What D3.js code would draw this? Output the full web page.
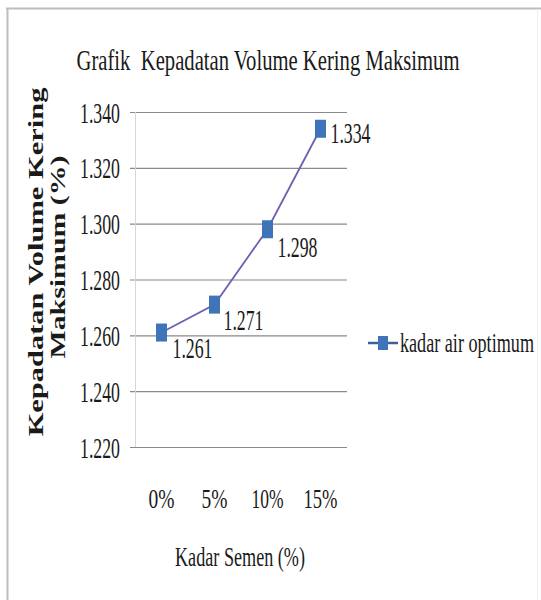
<!DOCTYPE html>
<html>
<head>
<meta charset="utf-8">
<script src="https://cdn.jsdelivr.net/npm/d3@7"></script>
<style>
  html, body { margin: 0; padding: 0; background: #fff; }
  svg { display: block; }
  text { font-family: "Liberation Serif", "Times New Roman", serif; fill: #1a1a1a; white-space: pre; }
</style>
</head>
<body>
<svg id="chart" width="541" height="600"></svg>
<script>
// Kadar semen (%) vs kepadatan volume kering maksimum
const categories = ["0%", "5%", "10%", "15%"];
const values = [1.261, 1.271, 1.298, 1.334];
const valueLabels = ["1.261", "1.271", "1.298", "1.334"];
const yTicks = [1.22, 1.24, 1.26, 1.28, 1.30, 1.32, 1.34];
const yTickLabels = ["1.220", "1.240", "1.260", "1.280", "1.300", "1.320", "1.340"];
const seriesName = "kadar air optimum";
const titleText = "Grafik  Kepadatan Volume Kering Maksimum";
const xTitle = "Kadar Semen (%)";
const yTitle = ["Kepadatan Volume Kering", "Maksimum (%)"];

const svg = d3.select("#chart");

// Places a text at (x, y) and squeezes it horizontally to the given width.
function condensed(parent, str, x, y, size, width, anchor, weight) {
  const g = parent.append("g");
  const t = g.append("text")
    .attr("x", 0).attr("y", 0).attr("dy", "0.35em")
    .attr("font-size", size)
    .attr("text-anchor", anchor || "start")
    .attr("font-weight", weight || "normal")
    .text(str);
  const natural = t.node().getComputedTextLength();
  const sx = width / natural;
  g.attr("transform", `translate(${x},${y}) scale(${sx},1)`);
  return g;
}

// outer frame (left and top edges visible)
svg.append("line").attr("x1", 7.5).attr("x2", 7.5).attr("y1", 8).attr("y2", 600)
  .attr("stroke", "#bdbdbd").attr("stroke-width", 2);
svg.append("line").attr("x1", 6).attr("x2", 541).attr("y1", 8.5).attr("y2", 8.5)
  .attr("stroke", "#bdbdbd").attr("stroke-width", 2);
svg.append("line").attr("x1", 537.5).attr("x2", 537.5).attr("y1", 9).attr("y2", 600)
  .attr("stroke", "#f0f0f0").attr("stroke-width", 1);

const plot = { left: 135, right: 347, top: 112, bottom: 447 };

const x = d3.scaleBand().domain(categories).range([plot.left, plot.right]);
const y = d3.scaleLinear().domain([1.22, 1.34]).range([plot.bottom, plot.top]);

// gridlines with tick stubs
const yAxis = d3.axisLeft(y).tickValues(yTicks).tickSize(0).tickFormat(() => "");
const gy = svg.append("g").attr("transform", `translate(${plot.left},0)`).call(yAxis);
gy.select(".domain").remove();
gy.selectAll(".tick line").remove();
gy.selectAll(".tick text").remove();
gy.selectAll(".tick").append("line")
  .attr("x1", -5).attr("x2", plot.right - plot.left)
  .attr("stroke", "#8a8a8a").attr("stroke-width", 1.2);
gy.selectAll(".tick").each(function (d, i) {
  condensed(d3.select(this), yTickLabels[i], -15, 0, 29, 40, "end");
});

// vertical axis line
svg.append("line").attr("x1", plot.left + 0.5).attr("x2", plot.left + 0.5)
  .attr("y1", plot.top).attr("y2", plot.bottom)
  .attr("stroke", "#d8d8d8").attr("stroke-width", 1);

// category axis labels
const xTickWidths = { "0%": 26, "5%": 26, "10%": 32, "15%": 34 };
const xAxis = d3.axisBottom(x).tickSize(0).tickFormat(() => "");
const gx = svg.append("g").attr("transform", `translate(0,${plot.bottom})`).call(xAxis);
gx.select(".domain").remove();
gx.selectAll(".tick text").remove();
gx.selectAll(".tick").each(function (d) {
  condensed(d3.select(this), d, 0, 51, 28, xTickWidths[d], "middle");
});

// series line
const cx = d => x(d) + x.bandwidth() / 2;
const line = d3.line().x((d, i) => cx(categories[i])).y(d => y(d));
svg.append("path").datum(values)
  .attr("d", line).attr("fill", "none")
  .attr("stroke", "#6f5fae").attr("stroke-width", 1.8);

// markers
svg.selectAll("rect.mk").data(values).join("rect")
  .attr("class", "mk")
  .attr("x", (d, i) => cx(categories[i]) - 5.5)
  .attr("y", d => y(d) - 9)
  .attr("width", 11).attr("height", 18)
  .attr("fill", "#3f74b8");

// value labels
const labelOffsets = [[11, 15], [9, 15], [10, 18], [10, 4]];
const gv = svg.append("g");
values.forEach((v, i) => {
  condensed(gv, valueLabels[i], cx(categories[i]) + labelOffsets[i][0],
    y(v) + labelOffsets[i][1], 29, 40, "start");
});

// title
condensed(svg, titleText, 268, 59, 30, 383, "middle");

// axis titles
condensed(svg, xTitle, 240, 557, 27, 130, "middle");

const yt = svg.append("g").attr("transform", "translate(0,262) rotate(-90)");
condensed(yt, yTitle[0], 0, 36, 20, 349, "middle", "bold");
condensed(yt, yTitle[1], 5, 58, 20, 203, "middle", "bold");

// legend
const lg = svg.append("g").attr("transform", "translate(368,343)");
lg.append("line").attr("x1", 0).attr("x2", 30).attr("y1", 0).attr("y2", 0)
  .attr("stroke", "#3e5f9e").attr("stroke-width", 2.5);
lg.append("rect").attr("x", 10).attr("y", -7).attr("width", 10).attr("height", 14)
  .attr("fill", "#3f74b8");
condensed(lg, seriesName, 32, 0, 27, 134, "start");
</script>
</body>
</html>
